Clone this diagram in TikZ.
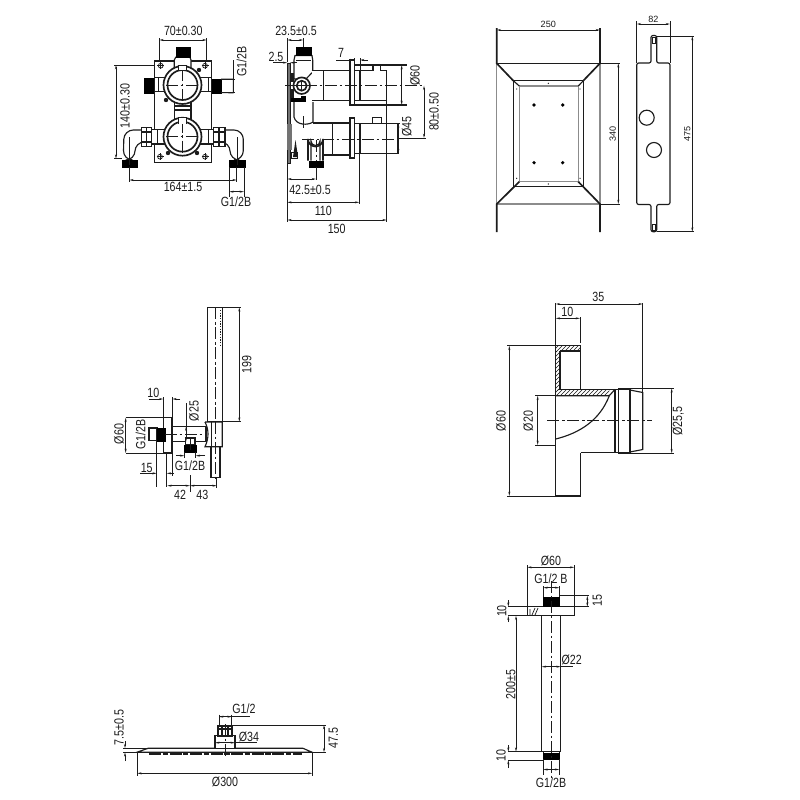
\documentclass[tikz,border=0pt]{standalone}
\usepackage{fontspec}
\usetikzlibrary{arrows.meta,patterns}
\setmainfont{Liberation Sans}
\newfontfamily\narrowfont[FakeStretch=0.8]{Liberation Sans}
\definecolor{ink}{HTML}{1C1C1C}
\tikzset{
  part/.style={draw=ink,line width=0.85pt},
  thin part/.style={draw=ink,line width=0.55pt},
  heavy/.style={draw=ink,line width=1.25pt},
  grayline/.style={draw=black!45,line width=0.95pt},
  ext/.style={draw=ink,line width=0.55pt},
  dim/.style={draw=ink,line width=0.55pt,{Stealth[length=3.2pt,width=1.5pt]}-{Stealth[length=3.2pt,width=1.5pt]}},
  tip/.style={draw=ink,line width=0.55pt,-{Stealth[length=3.2pt,width=1.5pt]}},
  axis/.style={draw=ink,line width=0.55pt,dash pattern=on 9pt off 2pt on 2pt off 2pt},
  blk/.style={fill=black,draw=black,line width=0.3pt},
  lab/.style={inner sep=0pt,text=ink,font=\narrowfont\fontsize{10}{10}\selectfont},
  smalllab/.style={inner sep=0pt,text=ink,font=\fontsize{6.8}{7}\selectfont},
  hatchfill/.style={pattern=north east lines,pattern color=ink},
}
\begin{document}
\begin{tikzpicture}[x=0.75pt,y=-0.75pt]
\useasboundingbox (0,0) rectangle (800,800);
\fill[white] (0,0) rectangle (800,800);

%% ---------- valve, front view ----------
\draw[part] (154.3,61) rectangle (211.7,162.7);
\fill[white] (174.3,56) rectangle (191,70);
\foreach \cx/\cy in {160.7/65.7,205/65.7,160/156.7,205/156.7}{
  \draw[thin part] (\cx,\cy) circle (2.4);
  \draw[thin part] (\cx-3.5,\cy) -- (\cx+3.5,\cy) (\cx,\cy-3.5) -- (\cx,\cy+3.5);
}
% top nipple
\draw[part,fill=white] (175.7,57.3) -- (174.3,60) -- (174.3,68) -- (191,68) -- (191,60) -- (190,57.3) -- cycle;
\draw[blk] (176,47.3) rectangle (190,57.3);
% side stubs upper
\draw[part,fill=white] (165,77.3) -- (154.3,77.3) -- (154.3,91.7) -- (165,91.7);
\draw[part,fill=white] (200,77.3) -- (211.7,77.3) -- (211.7,91.7) -- (200,91.7);
\draw[thin part] (158,77.3) -- (158,91.7) (208,77.3) -- (208,91.7);
\draw[blk] (144.3,78.3) rectangle (153.3,92.7);
\draw[blk] (212.3,79) rectangle (221,92.7);
\draw[thin part] (221,79) -- (233.3,79) -- (233.3,93) -- (221,92.7);
% middle neck
\draw[part,fill=white] (174.3,100) rectangle (191,122);
\draw[part] (174.3,106) -- (191,106) (174.3,110) -- (191,110);
% dark knobs
\foreach \cx/\cy in {166/100,199/70,168/153,197/153}{\fill[ink] (\cx,\cy) circle (2.2);}
% lower stubs, nuts and pipes
\draw[part,fill=white,rounded corners=7pt] (141.7,130) -- (124,130) -- (123.3,160) -- (135,160) -- (135,142) -- (141.7,142);
\draw[thin part] (129,137) -- (129,160);
\draw[part,fill=white,rounded corners=7pt] (225,130) -- (243.3,130) -- (243.3,160) -- (230,160) -- (230,142) -- (225,142);
\draw[thin part] (237,137) -- (237,160);
\draw[part,fill=white] (141.7,127.3) rectangle (151.7,146.7);
\draw[part] (141.7,132) -- (151.7,132) (141.7,142) -- (151.7,142) (146.7,127.3) -- (146.7,146.7);
\draw[part,fill=white] (213.3,127.3) rectangle (225,146.7);
\draw[part] (213.3,132) -- (225,132) (213.3,142) -- (225,142) (219,127.3) -- (219,146.7);
\draw[part,fill=white] (151.7,129.3) rectangle (165,144);
\draw[part,fill=white] (200,129.3) rectangle (213.3,144);
\draw[thin part] (157,129.3) -- (157,144) (208,129.3) -- (208,144);
\draw[blk] (121.7,160) rectangle (136.7,166.7);
\draw[blk] (229.3,160) rectangle (245,166.7);
% main circles
\foreach \cy in {85,136.7}{
  \draw[heavy,fill=white] (182.5,\cy) circle (19);
  \draw[heavy,fill=white] (182.5,\cy) circle (15);
  \draw[axis] (166,\cy) -- (199,\cy) (182.5,\cy-16) -- (182.5,\cy+16);
}
\draw[part,fill=white] (178.5,123.5) -- (178.5,117.3) -- (186.5,117.3) -- (186.5,123.5);
\draw[part,fill=white] (178.5,70) -- (178.5,65.5) -- (186.5,65.5) -- (186.5,70);
\draw[axis] (129,140) -- (129,165);
\draw[axis] (237,140) -- (237,165);
% front dims
\draw[ext] (159.3,38) -- (159.3,61) (206.7,38) -- (206.7,61);
\draw[dim] (159.3,40) -- (206.7,40);
\node[lab] (t70) at (183.3,30.7) {70±0.30};
\draw[ext] (114,65) -- (154.3,65) (114,158.7) -- (122,158.7);
\draw[dim] (116,65) -- (116,158.7);
\node[lab,rotate=90] (t140) at (125,106) {140±0.30};
\draw[ext] (129.3,167) -- (129.3,182) (236.7,167) -- (236.7,182);
\draw[dim] (129.3,180) -- (236.7,180);
\node[lab] (t164) at (183,187.3) {164±1.5};
\draw[ext] (221,79) -- (235,79) (221,92.7) -- (235,92.7);
\draw[ext] (233.3,60) -- (233.3,93);
\node[lab,rotate=90] (tg1) at (241.7,61.7) {G1/2B};
\draw[ext] (229.3,167) -- (229.3,197) (244,167) -- (244,197);
\draw[dim] (229.3,191.7) -- (244,191.7);
\node[lab] (tg2) at (236,201.7) {G1/2B};

%% ---------- valve, side view ----------
\fill[black!55] (287.3,63) rectangle (290,163);
\draw[thin part] (287.3,63) rectangle (290,163);
% body
\draw[part,fill=white] (295,55.5) -- (312,55.5) -- (312.7,60) -- (312.7,73) -- (311.7,73) -- (306,79) -- (294,79) -- (294,60) -- cycle;
\draw[thin part] (296,60) -- (311,60);
\draw[blk] (296,46.7) rectangle (310.7,55.5);
% upper pipe
\draw[part,fill=white] (311.7,70.7) -- (350,70.7) -- (350,100.7) -- (311.7,100.7);
\draw[part] (323.3,70.7) -- (323.3,100.7);
% upper flange and head
\draw[part,fill=white] (350,60) rectangle (354.7,105);
\draw[part,fill=white] (354.7,70.7) rectangle (386.7,100.7);
\draw[heavy] (360.3,71) -- (360.3,100.5);
\draw[part] (354.7,65) -- (406.7,65) (354.7,105) -- (406.7,105);
\draw[part,fill=white] (373,70.7) -- (373,65.3) -- (380.7,65.3) -- (380.7,70.7);
% rotary connector
\draw[heavy,fill=white] (301.7,85.7) circle (8.3);
\draw[heavy,fill=white] (301.7,85.7) circle (5);
\draw[thin part] (296.7,85.7) -- (306.7,85.7) (301.7,80.7) -- (301.7,90.7);
\fill[ink] (291,73) rectangle (293.5,82);
\fill[ink] (291,89) rectangle (294,98);
\draw[blk] (291,97.8) rectangle (305.5,101.5);
\draw[blk] (301.5,96) rectangle (305.5,104);
% middle and lower body
\draw[part,fill=white] (294,102) -- (294,117) .. controls (296,125.5) and (308,125.5) .. (313,122) -- (313,102);
\draw[part] (313,123) -- (332.7,123) (323,155) -- (332.7,155);
\draw[part,fill=white] (332.7,123) -- (350,123) -- (350,155) -- (332.7,155) -- cycle;
\draw[part,fill=white] (350,118) rectangle (354.7,158);
\draw[part,fill=white] (354.7,123.3) -- (398,123.3) -- (398,153.3) -- (354.7,153.3);
\draw[heavy] (360,123.3) -- (360,153.3);
\draw[heavy] (398,123.3) -- (398,153.3);
\draw[part,fill=white] (372.7,123.3) -- (372.7,117.3) -- (381.3,117.3) -- (381.3,123.3);
% elbow
\draw[heavy,fill=white] (308,160.7) -- (308,139) arc[start angle=180,end angle=0,radius=7.5] -- (323,160.7);
\draw[part] (311,160.7) -- (311,141) arc[start angle=180,end angle=0,radius=4.5] -- (320,160.7);
\draw[blk] (309,160.7) rectangle (323,167);
\fill[ink] (293,157) -- (295.5,140) -- (298,157) -- cycle;
\draw[thin part] (291,152) rectangle (297,158);
\fill[black!55] (287.3,124) rectangle (292,150);
\draw[axis] (285,85.7) -- (424,85.7);
\draw[axis] (302,139) -- (395,139);
\draw[axis] (303,116) -- (303,130);
\draw[axis] (316,140) -- (316,161);
% side dims
\draw[ext] (287.3,38) -- (287.3,62) (303.3,38) -- (303.3,47);
\draw[dim] (287.3,40) -- (303.3,40);
\node[lab] (t235) at (296,30.7) {23.5±0.5};
\draw[tip] (273,62.7) -- (287.3,62.7);
\draw[tip] (297,62.7) -- (290,62.7);
\node[lab] (t25) at (276,56.7) {2.5};
\draw[tip] (336,60) -- (354.7,60);
\draw[tip] (368,60) -- (360,60);
\draw[ext] (354.7,58) -- (354.7,64) (360,58) -- (360,70);
\node[lab] (t7) at (341,52.7) {7};
\draw[dim] (401.7,65) -- (401.7,105);
\node[lab,rotate=90] (tz60) at (415,75.7) {Ø60};
\draw[dim] (398.3,123.3) -- (398.3,153.3);
\node[lab,rotate=90] (tz45) at (406.7,126.7) {Ø45};
\draw[ext] (354.7,123.3) -- (400,123.3);
\draw[ext] (398,138) -- (426,138);
\draw[dim] (424,85.7) -- (424,138);
\node[lab,rotate=90] (t80) at (434,111.7) {80±0.50};
\draw[ext] (287.3,163) -- (287.3,222);
\draw[ext] (316,167) -- (316,180);
\draw[dim] (287.3,179) -- (316,179);
\node[lab] (t425) at (310,190) {42.5±0.5};
\draw[ext] (359.3,153) -- (359.3,204);
\draw[dim] (287.3,202.3) -- (359.3,202.3);
\node[lab] (t110) at (323.3,211) {110};
\draw[ext] (386.7,100) -- (386.7,222);
\draw[dim] (287.3,220) -- (386.7,220);
\node[lab] (t150) at (336.7,229) {150};

%% ---------- box front ----------
\draw[grayline] (496.7,63) -- (496.7,204) (600,63) -- (600,204);
\draw[grayline] (519.3,86) rectangle (578.3,181.7);
\draw[grayline] (496.7,204) -- (600,204);
\draw[part] (513.3,80.7) -- (583.3,80.7) (513.3,186.7) -- (583.3,186.7);
\draw[part] (496.7,63.3) -- (600,63.3);
\draw[part] (513.3,80.7) -- (513.3,186.7) (583.3,80.7) -- (583.3,186.7);
\draw[heavy] (496.7,28) -- (496.7,63.3) -- (513.3,80.7);
\draw[heavy] (600,28) -- (600,63.3) -- (583.3,80.7);
\draw[heavy] (496.7,232) -- (496.7,204) -- (519.3,181.7);
\draw[heavy] (600,232) -- (600,204) -- (578.3,181.7);
\draw[part] (513.3,80.7) -- (519.3,86) (583.3,80.7) -- (578.3,86);
\foreach \px in {534,562.7}\foreach \py in {105,162.7}{\fill[black] (\px,\py) circle (1.8);}
\foreach \px/\py in {548.3/83.3,548.3/184,516.7/89,580/89,516.7/178.3,580/178.3}{\fill[ink] (\px,\py) circle (0.7);}
\draw[dim] (496.7,30) -- (600,30);
\node[smalllab] (t250) at (548.3,24) {250};
\draw[ext] (600,63.3) -- (620,63.3) (600,204) -- (620,204);
\draw[dim] (618.3,63.3) -- (618.3,204);
\node[smalllab,rotate=90] (t340) at (612.7,134) {340};

%% ---------- box side ----------
\draw[part,rounded corners=1.5pt] (651,35.5) -- (656.7,35.5) -- (656.7,63) -- (670,63) -- (670,204.5) -- (656.7,204.5) -- (656.7,231.7) -- (651,231.7) -- (651,204.5) -- (636.7,204.5) -- (636.7,63) -- (651,63) -- cycle;
\foreach \cy in {37.5,224.5}{\draw[thin part] (652.2,\cy) rectangle (655.5,\cy+5.5);}
\draw[part] (646.7,117.7) circle (7.5);
\draw[part] (654,150) circle (7.5);
\draw[ext] (636.7,21) -- (636.7,63) (670,21) -- (670,63);
\draw[dim] (636.7,24) -- (670,24);
\node[smalllab] (t82) at (653.3,19) {82};
\draw[ext] (656.7,36) -- (694,36) (656.7,231.7) -- (694,231.7);
\draw[dim] (692.3,36) -- (692.3,231.7);
\node[smalllab,rotate=90] (t475) at (687.3,134) {475};

%% ---------- hand shower ----------
\draw[part] (207.7,307.3) rectangle (222.3,421.7);
\draw[axis] (215,307.3) -- (215,422);
\draw[ext,dash pattern=on 1pt off 1pt,line width=0.8pt] (220.6,310) -- (220.6,345);
\draw[part,fill=white] (172.7,426.7) rectangle (206,441.7);
\draw[part,fill=white] (205,422) -- (222.3,422) -- (222.3,446.7) -- (207,446.7) -- (205,446.7) .. controls (209,438) and (209,430) .. (205,422);
\draw[thin part] (211,422) -- (211,446.7);
\draw[part] (211,446.7) rectangle (220,477.7);
\draw[axis] (215.5,422) -- (215.5,480);
\draw[part,fill=white] (163.3,417.7) rectangle (172,453);
\draw[ext] (126,417.7) -- (163.3,417.7) (126,453) -- (163.3,453);
\draw[part] (149,428) rectangle (157,440.7);
\draw[blk] (156.7,428) rectangle (165,440.7);
\draw[axis] (165,434.3) -- (204,434.3);
\draw[part,fill=white] (185.7,438) rectangle (195,445);
\draw[blk] (184.3,445) rectangle (195.7,451.7);
\draw[axis] (190,438) -- (190,452);
\draw[ext] (222.3,307.3) -- (241,307.3) (222.3,421.7) -- (241,421.7);
\draw[dim] (239.3,307.3) -- (239.3,421.7);
\node[lab,rotate=90] (t199) at (246.7,364.3) {199};
\draw[ext] (163.3,397) -- (163.3,417.7) (172.3,397) -- (172.3,417.7);
\draw[tip] (149,399) -- (163.3,399);
\draw[tip] (180,399) -- (172.3,399);
\node[lab] (th10) at (153.3,392.7) {10};
\draw[dim] (125.7,417.7) -- (125.7,453);
\node[lab,rotate=90] (thz60) at (119,434) {Ø60};
\node[lab,rotate=90] (thg) at (140.7,434.3) {G1/2B};
\draw[ext] (186,403) -- (186,438);
\draw[dim] (186,426.7) -- (186,441.7);
\node[lab,rotate=90] (thz25) at (194,411) {Ø25};
\draw[ext] (184.3,452) -- (184.3,458) (195.7,452) -- (195.7,458);
\draw[tip] (176,455.7) -- (184.3,455.7);
\draw[tip] (205,455.7) -- (195.7,455.7);
\node[lab] (thg2) at (190,465.7) {G1/2B};
\draw[ext] (156.7,441) -- (156.7,487) (166.7,453) -- (166.7,487) (172.3,453) -- (172.3,476);
\draw[tip] (140,473.3) -- (156.7,473.3);
\draw[tip] (174,473.3) -- (166.7,473.3);
\node[lab] (th15) at (146.7,467.7) {15};
\draw[ext] (190,475) -- (190,492) (216.7,478) -- (216.7,488);
\draw[dim] (167.3,485.7) -- (190,485.7);
\draw[dim] (190,485.7) -- (216.7,485.7);
\node[lab] (th42) at (180,494.5) {42};
\node[lab] (th43) at (202.3,494.5) {43};

%% ---------- section ----------
\fill[hatchfill] (555.7,345.7) rectangle (580.7,351);
\fill[hatchfill] (555.7,351) rectangle (560,390);
\fill[hatchfill] (555.7,389.3) rectangle (609.3,395.7);
\draw[part] (555.7,345.7) -- (555.7,496) -- (580.7,496) -- (580.7,452.7);
\draw[part] (555.7,345.7) -- (580.7,345.7) -- (580.7,389.3);
\draw[part] (560,351) -- (580.7,351) (560,351) -- (560,389.3) -- (615,389.3);
\draw[part] (555.7,395.7) -- (609.3,395.7) -- (615,389.3);
\draw[part] (580.7,452.7) -- (615,452.7);
\draw[part] (609.3,395.7) .. controls (600,420) and (580,433) .. (555.7,439);
\draw[part] (615,389.3) rectangle (618.3,452.7);
\draw[part] (618.3,389.3) -- (630,389.3) -- (630,452.7) -- (618.3,452.7);
\draw[heavy] (618.3,389.3) -- (630,389.3) (618.3,452.7) -- (630,452.7);
\draw[part] (630,390) -- (642.7,392.5) -- (642.7,449.5) -- (630,452);
\draw[axis] (547.3,420.3) -- (651.7,420.3);
\draw[ext] (555.7,303) -- (555.7,345.7) (642.7,303) -- (642.7,392);
\draw[dim] (555.7,304) -- (642.7,304);
\node[lab] (ts35) at (598.3,296.7) {35};
\draw[ext] (580,317) -- (580,343.3);
\draw[dim] (555.7,318.3) -- (580,318.3);
\node[lab] (ts10) at (567.3,312.3) {10};
\draw[ext] (507,345.7) -- (555.7,345.7) (507,496) -- (555.7,496);
\draw[dim] (509.3,345.7) -- (509.3,496);
\node[lab,rotate=90] (tsz60) at (501,421) {Ø60};
\draw[ext] (535,395.7) -- (555,395.7) (535,445) -- (555,445);
\draw[dim] (537.7,395.7) -- (537.7,445);
\node[lab,rotate=90] (tsz20) at (528.3,421) {Ø20};
\draw[ext] (630,388.3) -- (674,388.3) (630,453.3) -- (674,453.3);
\draw[dim] (671.7,388.3) -- (671.7,453.3);
\node[lab,rotate=90] (tsz255) at (678.3,421) {Ø25,5};

%% ---------- ceiling arm ----------
\draw[part] (527.3,606.7) rectangle (574.3,615.7);
\draw[part] (541.7,615.7) rectangle (560.7,751.7);
\draw[blk] (543.3,596.7) rectangle (559.3,605.7);
\draw[blk] (543.3,753.3) rectangle (559.3,759.3);
\draw[thin part] (543.3,751.7) -- (543.3,753.3) (559.3,751.7) -- (559.3,753.3);
\draw[thin part] (532,615) -- (535,608) (535,615) -- (538,608) (530,609) -- (530,615);
\draw[axis] (551,581) -- (551,778);
\draw[ext] (527.3,565) -- (527.3,607) (574.3,565) -- (574.3,607);
\draw[dim] (527.3,567.3) -- (574.3,567.3);
\node[lab] (tr60) at (551,560.7) {Ø60};
\node[lab] (trg) at (551,579) {G1/2 B};
\draw[ext] (543.3,586) -- (543.3,597) (559.3,586) -- (559.3,597);
\draw[dim] (543.3,587.7) -- (559.3,587.7);
\draw[ext] (559.3,595.7) -- (589,595.7) (574.3,606.7) -- (589,606.7);
\draw[dim] (587.3,595.7) -- (587.3,606.7);
\node[lab,rotate=90] (tr15) at (597.3,600.7) {15};
\draw[ext] (508,606.7) -- (527.3,606.7) (508,615.7) -- (541,615.7);
\draw[tip] (508.3,600) -- (508.3,606.7);
\draw[tip] (508.3,622) -- (508.3,615.7);
\node[lab,rotate=90] (tr10a) at (501.7,611) {10};
\draw[dim] (516,615.7) -- (516,751.7);
\node[lab,rotate=90] (tr200) at (510.7,684.3) {200±5};
\draw[dim] (541.7,666.7) -- (560.7,666.7);
\draw[ext] (560.7,666.7) -- (573.3,666.7);
\node[lab] (tr22) at (571.7,660) {Ø22};
\draw[ext] (508,751.7) -- (541.7,751.7) (508,760) -- (543.3,760);
\draw[tip] (508.3,745) -- (508.3,751.7);
\draw[tip] (508.3,768) -- (508.3,760);
\node[lab,rotate=90] (tr10b) at (501,755.7) {10};
\draw[ext] (543.3,759.3) -- (543.3,775) (559.3,759.3) -- (559.3,775);
\draw[dim] (543.3,769.5) -- (559.3,769.5);
\node[lab] (trg2) at (551,782.3) {G1/2B};

%% ---------- rain head ----------
\draw[part] (136.7,752.3) -- (312.3,752.3) -- (303,748.3) -- (148,748.3) -- cycle;
\draw[draw=ink,line width=1.6pt,dash pattern=on 9pt off 1.2pt on 4pt off 1.2pt] (149,754.2) -- (302,754.2);
\draw[part,fill=white] (215,748) -- (215,735.7) -- (235,735.7) -- (235,748);
\draw[heavy,fill=white] (218.3,725.7) rectangle (231.7,735.7);
\draw[part] (218.3,729) -- (231.7,729) (222,725.7) -- (222,735.7) (228,725.7) -- (228,735.7);
\draw[axis] (225,724) -- (225,758);
\draw[ext] (219,714.5) -- (219,726) (231.7,714.5) -- (231.7,726);
\draw[ext] (219,716.7) -- (250,716.7);
\draw[dim] (219,716.7) -- (231.7,716.7);
\node[lab] (tg12) at (244,709) {G1/2};
\draw[dim] (215,742.7) -- (235,742.7);
\draw[ext] (235,742.7) -- (256.7,742.7);
\node[lab] (tz34) at (249,736.7) {Ø34};
\draw[ext] (231.7,725) -- (326,725) (312,752.3) -- (326,752.3);
\draw[dim] (324,725) -- (324,752.3);
\node[lab,rotate=90] (t475h) at (333.3,738.3) {47.5};
\draw[ext] (123,748.3) -- (148,748.3) (123,752.3) -- (137,752.3);
\draw[tip] (125,741) -- (125,748.3);
\draw[tip] (125,761) -- (125,752.3);
\node[lab,rotate=90] (t75) at (119,727.3) {7.5±0.5};
\draw[ext] (137.3,753) -- (137.3,776) (312.3,753) -- (312.3,776);
\draw[dim] (137.3,773.3) -- (312.3,773.3);
\node[lab] (tz300) at (225,782) {Ø300};
\end{tikzpicture}
\end{document}
